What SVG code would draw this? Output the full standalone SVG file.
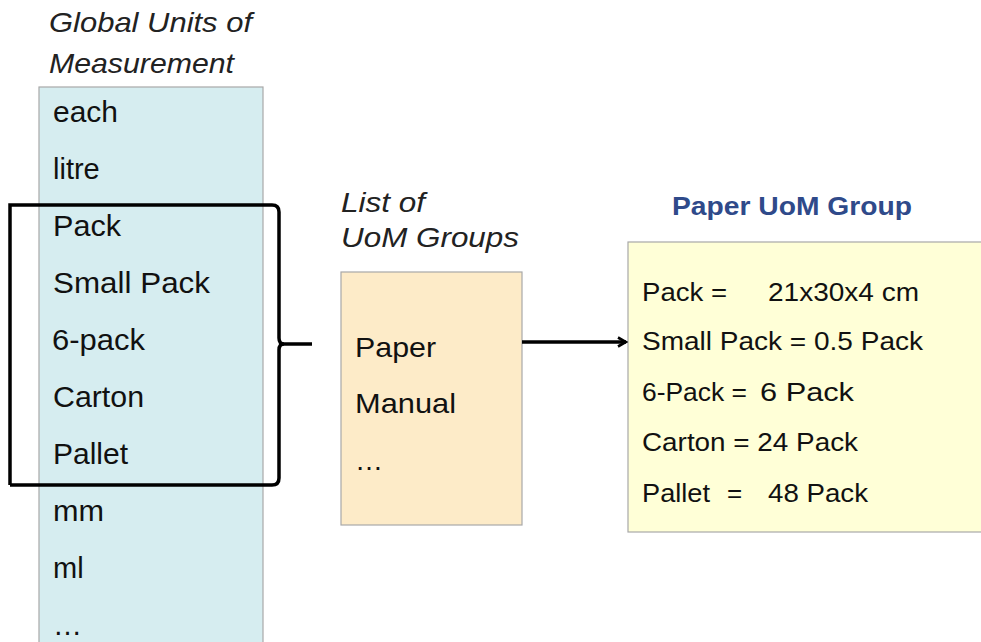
<svg xmlns="http://www.w3.org/2000/svg" width="981" height="642" viewBox="0 0 981 642">
<defs>
<style>
text{font-family:"Liberation Sans",Arial,sans-serif;fill:#111}
.hdr{font-style:italic;font-size:28px;fill:#222}
.li{font-size:29px}
.ri{font-size:26px}
.mi{font-size:28px}
.ttl{font-size:25px;font-weight:bold;fill:#2f4a8a}
.box{stroke:#a8a8a8;stroke-width:1.2}
.conn{fill:none;stroke:#000;stroke-width:3.5}
</style>
<marker id="arr" viewBox="0 0 12 12" refX="10" refY="6" markerWidth="12" markerHeight="12" markerUnits="userSpaceOnUse" orient="auto">
<path d="M2,1.5 L10,6 L2,10.5" fill="none" stroke="#000" stroke-width="2.6"/>
</marker>
</defs>
<rect width="981" height="642" fill="#fff"/>

<g id="global-units">
<text class="hdr" x="49" y="32" textLength="203" lengthAdjust="spacingAndGlyphs">Global Units of</text>
<text class="hdr" x="49" y="73" textLength="185" lengthAdjust="spacingAndGlyphs">Measurement</text>
<rect class="box" x="39" y="87" width="224" height="570" fill="#d6edf0"/>
<text class="li" x="53" y="122" textLength="65" lengthAdjust="spacingAndGlyphs">each</text>
<text class="li" x="53" y="179">litre</text>
<text class="li" x="53" y="236" textLength="68" lengthAdjust="spacingAndGlyphs">Pack</text>
<text class="li" x="53" y="293" textLength="157" lengthAdjust="spacingAndGlyphs">Small Pack</text>
<text class="li" x="52" y="350" textLength="93" lengthAdjust="spacingAndGlyphs">6-pack</text>
<text class="li" x="53" y="407" textLength="91" lengthAdjust="spacingAndGlyphs">Carton</text>
<text class="li" x="53" y="464" textLength="75" lengthAdjust="spacingAndGlyphs">Pallet</text>
<text class="li" x="53" y="521" textLength="51" lengthAdjust="spacingAndGlyphs">mm</text>
<text class="li" x="53" y="578">ml</text>
<text class="li" x="53" y="635">…</text>
</g>

<g id="uom-groups">
<text class="hdr" x="341" y="212" textLength="84" lengthAdjust="spacingAndGlyphs">List of</text>
<text class="hdr" x="341" y="247" textLength="178" lengthAdjust="spacingAndGlyphs">UoM Groups</text>
<rect class="box" x="341" y="272" width="181" height="253" fill="#fdebc8"/>
<text class="mi" x="355" y="357" textLength="81" lengthAdjust="spacingAndGlyphs">Paper</text>
<text class="mi" x="355" y="413" textLength="101" lengthAdjust="spacingAndGlyphs">Manual</text>
<text class="mi" x="355" y="470">…</text>
</g>

<g id="paper-uom-group">
<text class="ttl" x="792" y="215" text-anchor="middle" textLength="240" lengthAdjust="spacingAndGlyphs">Paper UoM Group</text>
<rect class="box" x="628" y="242" width="370" height="290" fill="#ffffd7"/>
<text class="ri" x="642" y="301"><tspan textLength="85" lengthAdjust="spacingAndGlyphs">Pack =</tspan><tspan x="768" textLength="151" lengthAdjust="spacingAndGlyphs">21x30x4 cm</tspan></text>
<text class="ri" x="642" y="350" textLength="281" lengthAdjust="spacingAndGlyphs">Small Pack = 0.5 Pack</text>
<text class="ri" x="642" y="401"><tspan textLength="105" lengthAdjust="spacingAndGlyphs">6-Pack =</tspan><tspan x="760" textLength="94" lengthAdjust="spacingAndGlyphs">6 Pack</tspan></text>
<text class="ri" x="642" y="451" textLength="216" lengthAdjust="spacingAndGlyphs">Carton = 24 Pack</text>
<text class="ri" x="642" y="502"><tspan textLength="68" lengthAdjust="spacingAndGlyphs">Pallet</tspan><tspan x="727">=</tspan><tspan x="768" textLength="100" lengthAdjust="spacingAndGlyphs">48 Pack</tspan></text>
</g>

<g id="connectors">
<path class="conn" d="M10,485 L10,205 L272,205 Q279,205 279,212 L279,338 Q279,344 284,344 L312,344"/>
<path class="conn" d="M284,344 Q279,344 279,350 L279,478 Q279,485 272,485 L10,485"/>
<line class="conn" x1="522" y1="342" x2="626" y2="342" stroke-width="3" marker-end="url(#arr)"/>
</g>
</svg>
